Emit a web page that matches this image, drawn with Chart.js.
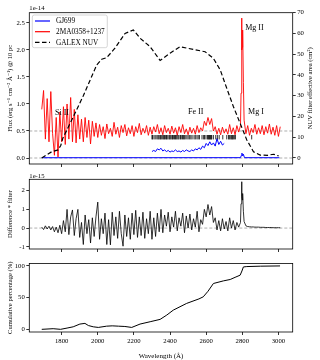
<!DOCTYPE html>
<html>
<head>
<meta charset="utf-8">
<script src="https://cdn.jsdelivr.net/npm/chart.js@4"></script>
<style>
  body { margin: 0; background: #fff; }
  #wrap { position: relative; width: 320px; height: 360px; }
  #wrap canvas { position: absolute; left: 0; }
</style>
</head>
<body>
<div id="wrap">
  <canvas id="fluxChart" width="320" height="170" style="top:0px"></canvas>
  <canvas id="diffChart" width="320" height="88" style="top:170px"></canvas>
  <canvas id="cumChart" width="320" height="102" style="top:258px"></canvas>
</div>
<script>
// wavelength range shown on all three panels (Angstrom)
const X_MIN = 1621, X_MAX = 3079;
const xTicksStep = 200;

// 2MA0358+1237 flux (x 1e-14), every 10 A from 1690 A
const redStart = 1690, redStep = 10;
const redFlux = [
  0.9, 1.25, 0.35, 1.1, 0.3, 1.23, 0.45, 0.05, 0.75, 0.02,
  0.85, 0.3, 0.95, 0.25, 1.0, 0.35, 1.12, 0.3, 0.9, 0.28,
  0.8, 0.35, 0.72, 0.3, 0.75, 0.38, 0.7, 0.26, 0.68, 0.4,
  0.65, 0.38, 0.62, 0.42, 0.58, 0.36, 0.63, 0.45, 0.55, 0.4,
  0.66, 0.44, 0.57, 0.38, 0.6, 0.47, 0.62, 0.41, 0.56, 0.45,
  0.6, 0.4, 0.58, 0.47, 0.64, 0.43, 0.55, 0.46, 0.6, 0.42,
  0.57, 0.44, 0.58, 0.48, 0.62, 0.45, 0.56, 0.43, 0.6, 0.47,
  0.55, 0.44, 0.59, 0.46, 0.56, 0.42, 0.58, 0.47, 0.62, 0.45,
  0.54, 0.43, 0.57, 0.46, 0.55, 0.44, 0.6, 0.47, 0.56, 0.5,
  0.68, 0.6, 0.75, 0.62, 0.73, 0.5, 0.58, 0.44, 0.55, 0.43,
  0.57, 0.46, 0.54, 0.44, 0.62, 0.45, 0.56, 0.43, 0.6, 0.48,
  0.6, 2.05, 0.7, 0.45, 0.6, 0.42, 0.55, 0.47, 0.62, 0.44,
  0.56, 0.45, 0.6, 0.43, 0.58, 0.46, 0.63, 0.44, 0.57, 0.42,
  0.6, 0.4, 0.58
];
// extra samples across the Mg II doublet
const redMgWave = [2793, 2796, 2798, 2801, 2803, 2806];
const redMgFlux = [1.2, 2.59, 2.0, 2.1, 2.37, 1.4];

// GJ699 flux (x 1e-14)
const gjWave = [1690, 2790, 2795, 2798, 2802, 2806, 2812, 3005];
const gjFlux = [0.005, 0.006, 0.05, 0.09, 0.04, 0.07, 0.006, 0.005];
const gjSegStart = 2300;
const gjSegFlux = [
  0.12, 0.14, 0.12, 0.17, 0.15, 0.18, 0.13, 0.15, 0.12, 0.14,
  0.11, 0.13, 0.12, 0.15, 0.12, 0.13, 0.11, 0.14, 0.12, 0.15,
  0.13, 0.12, 0.15, 0.13, 0.17, 0.15, 0.19, 0.16, 0.22, 0.19,
  0.27, 0.23, 0.3, 0.24, 0.28, 0.22, 0.36, 0.25, 0.31, 0.24, 0.27
];

// GALEX NUV effective area (cm^2)
const galexWave = [1690, 1745, 1780, 1795, 1807, 1860, 1920, 1960, 1994, 2022, 2049, 2095, 2151, 2197, 2234, 2290,
  2345, 2400, 2456, 2500, 2594, 2640, 2678, 2714, 2751, 2788, 2825, 2862, 2899, 2940, 2973, 3001];
const galexArea = [0, 3.0, 3.9, 6, 9.6, 19, 30, 38, 44.8, 47.6, 48.3, 52.9, 60, 61.7, 57.7, 53.6,
  47, 50.5, 53.6, 52.8, 51.2, 48, 42.4, 33.6, 24.7, 16.7, 8.7, 3, 1.4, 1.3, 1.8, 1];

// Fe II / Mg I line positions (A)
const markWave = [2300, 2303, 2311, 2318, 2327, 2333, 2338, 2344, 2348, 2354, 2360, 2365, 2369, 2374, 2380, 2383,
  2389, 2396, 2400, 2405, 2411, 2414, 2420, 2425, 2430, 2434, 2439, 2445, 2450, 2458, 2462, 2469, 2474, 2479,
  2484, 2493, 2500, 2507, 2515, 2522, 2533, 2540, 2549, 2556, 2563, 2577, 2586, 2591, 2599, 2607, 2611, 2614,
  2618, 2621, 2625, 2628, 2631, 2640, 2653, 2662, 2672, 2692, 2714, 2724, 2728, 2733, 2739, 2743, 2747, 2750,
  2756, 2762, 2852];
const markLevel = 0.385;
const fluxRefLevels = [0, 0.5];

// difference * filter (x 1e-15), same 10 A grid
const diffVals = [
  0.05, -0.08, 0.12, -0.05, 0.1, -0.1, 0.08, -0.2, 0.05, -0.25,
  0.15, -0.3, 0.4, -0.2, 1.0, -0.35, 0.6, 0.97, -0.4, 0.5,
  1.0, -0.5, 0.3, -0.88, 0.7, -0.3, 0.45, -0.8, 0.55, -0.45,
  0.6, 1.39, -0.6, 0.5, -0.3, 0.8, -0.88, 0.45, -0.9, 0.85,
  -0.4, 0.6, -0.55, 0.9, -0.3, -0.97, 0.7, -0.45, 0.55, -0.6,
  0.8, -0.35, 0.95, -0.5, 0.6, -0.4, 0.85, -0.55, 0.5, -0.3,
  0.9, -0.6, 0.55, -0.45, 0.8, -0.2, 1.0, -0.25, 0.7, 0.1,
  0.85, -0.2, 0.6, 0.05, 0.9, -0.15, 0.55, 0.1, 0.8, -0.25,
  0.65, 0.0, 0.75, -0.1, 0.5, 0.05, 0.9, -0.2, 0.45, 0.2,
  1.0, 0.6, 1.26, 0.7, 1.15, 0.3, 0.55, -0.1, 0.4, -0.15,
  0.5, -0.05, 0.35, -0.15, 0.55, 0.0, 0.4, -0.1, 0.3, 0.05,
  0.3, 1.5, 0.35, 0.12, 0.08, 0.07, 0.06, 0.06, 0.05, 0.05,
  0.05, 0.04, 0.04, 0.04, 0.03, 0.03, 0.03, 0.03, 0.02, 0.02,
  0.02, 0.02, 0.02
];
const diffMgVals = [1.3, 2.48, 1.7, 1.6, 1.85, 0.9];

// cumulative percentage
const cumWave = [1690, 1753, 1794, 1830, 1864, 1901, 1929, 1948, 1975, 2003, 2049, 2080, 2114, 2150, 2188, 2234,
  2290, 2345, 2382, 2418, 2492, 2560, 2584, 2610, 2640, 2695, 2733, 2760, 2788, 2798, 2806, 2825, 2900, 3009];
const cumPct = [0, 1, 0, 2, 4, 8.3, 9.4, 6, 4, 3, 5, 5.5, 5, 4.5, 3, 8.3,
  12, 15.7, 22.5, 30.3, 40.9, 48, 51.3, 60, 72.3, 76.4, 78.6, 82, 85.4, 92, 98.4, 99, 99.6, 100];

Chart.defaults.font.family = "'Liberation Serif', 'DejaVu Serif', serif";
Chart.defaults.color = '#000';
Chart.defaults.animation = false;
Chart.defaults.responsive = false;
Chart.defaults.plugins.legend.display = false;
Chart.defaults.plugins.tooltip.enabled = false;

function gridPoints(start, step, vals, extraW, extraV) {
  const pts = vals.map((v, i) => ({ x: start + i * step, y: v }));
  (extraW || []).forEach((w, i) => pts.push({ x: w, y: extraV[i] }));
  return pts.sort((a, b) => a.x - b.x);
}
function pairs(ws, vs) { return ws.map((w, i) => ({ x: w, y: vs[i] })); }
function hline(v) { return [{ x: X_MIN, y: v }, { x: X_MAX, y: v }]; }

const tickGrid = { drawOnChartArea: false, drawTicks: true, tickLength: 3, color: '#000', lineWidth: 0.8 };

function xAxis(h, labels) {
  return {
    type: 'linear', position: 'bottom', min: X_MIN, max: X_MAX,
    afterFit: s => { s.height = h; },
    border: { display: false },
    grid: tickGrid,
    ticks: { stepSize: xTicksStep, includeBounds: false, display: labels, padding: 2, maxRotation: 0, autoSkip: false,
      font: { size: 6.7 }, callback: v => String(v) },
    title: { display: labels, text: 'Wavelength (Å)', font: { size: 7 }, padding: { top: 6.3, bottom: 0 } }
  };
}
function yAxis(min, max, step, title, fmt) {
  return {
    type: 'linear', position: 'left', min: min, max: max,
    afterFit: s => { s.width = 29.3; },
    border: { display: false },
    grid: tickGrid,
    ticks: { stepSize: step, includeBounds: false, padding: 1.5, font: { size: 6.7 }, callback: fmt || (v => String(v)) },
    title: { display: true, text: title, font: { size: 6.6 }, padding: { top: 6, bottom: 0 } }
  };
}
function line(data, color, width, extra) {
  return Object.assign({ data: data, borderColor: color, borderWidth: width, showLine: true, pointRadius: 0, tension: 0 }, extra || {});
}

// frame, offset text ("1e-14") and other drawn extras
const framePlugin = {
  id: 'frame',
  afterDatasetsDraw(chart, args, opts) {
    const ctx = chart.ctx, a = chart.chartArea;
    ctx.save();
    ctx.strokeStyle = '#000';
    ctx.lineWidth = 0.8;
    ctx.strokeRect(a.left, a.top, a.right - a.left, a.bottom - a.top);
    if (opts.offsetText) {
      ctx.fillStyle = '#000';
      ctx.font = "6.7px 'Liberation Serif'";
      ctx.textBaseline = 'middle';
      ctx.fillText(opts.offsetText, a.left, a.top - opts.offsetGap);
    }
    ctx.restore();
  }
};

const lineLabels = [
  { text: 'Si II', x: 1763, y: 0.83 },
  { text: 'Fe II', x: 2500, y: 0.85 },
  { text: 'Mg II', x: 2816, y: 2.41 },
  { text: 'Mg I', x: 2832, y: 0.85 }
];

const fluxExtras = {
  id: 'fluxExtras',
  afterDatasetsDraw(chart) {
    const ctx = chart.ctx, a = chart.chartArea;
    const xs = chart.scales.x, ys = chart.scales.y;
    ctx.save();
    // line labels
    ctx.fillStyle = '#000';
    ctx.font = "8px 'Liberation Serif'";
    ctx.textBaseline = 'middle';
    lineLabels.forEach(l => ctx.fillText(l.text, xs.getPixelForValue(l.x), ys.getPixelForValue(l.y)));
    // legend
    const items = chart.data.datasets.filter(d => d.label);
    const x0 = a.left + 3, y0 = a.top + 2.3, rowH = 10.7;
    ctx.fillStyle = 'rgba(255,255,255,0.8)';
    ctx.strokeStyle = '#ccc';
    ctx.lineWidth = 0.8;
    ctx.beginPath();
    ctx.roundRect(x0, y0, 75, items.length * rowH + 0.6, 2);
    ctx.fill();
    ctx.stroke();
    ctx.font = "7.3px 'Liberation Serif'";
    items.forEach((d, i) => {
      const yy = y0 + 6 + i * rowH;
      ctx.strokeStyle = d.borderColor;
      ctx.lineWidth = d.legendWidth || d.borderWidth;
      ctx.setLineDash(d.borderDash || []);
      ctx.beginPath();
      ctx.moveTo(x0 + 2.7, yy);
      ctx.lineTo(x0 + 17.7, yy);
      ctx.stroke();
      ctx.setLineDash([]);
      ctx.fillStyle = '#000';
      ctx.fillText(d.label, x0 + 23.7, yy + 0.5);
    });
    // right axis title, reading bottom to top
    ctx.translate(chart.width - 10, (a.top + a.bottom) / 2);
    ctx.rotate(-Math.PI / 2);
    ctx.textAlign = 'center';
    ctx.font = "6.6px 'Liberation Serif'";
    ctx.fillText('NUV filter effective area (cm²)', 0, 0);
    ctx.restore();
  }
};

const grayDash = { borderDash: [3, 2], order: 5 };

new Chart(document.getElementById('fluxChart'), {
  type: 'scatter',
  data: {
    datasets: [
      line(pairs(gjWave, gjFlux), 'blue', 1, { label: 'GJ699', order: 3, legendWidth: 1.2 }),
      line(gridPoints(redStart, redStep, redFlux, redMgWave, redMgFlux), 'red', 0.9, { label: '2MA0358+1237', order: 2, legendWidth: 1.2 }),
      line(pairs(galexWave, galexArea), '#000', 1.2, { label: 'GALEX NUV', yAxisID: 'y2', borderDash: [4.5, 2.5], order: 0 }),
      line(gridPoints(gjSegStart, 10, gjSegFlux), 'blue', 1, { order: 3 }),
      { data: markWave.map(w => ({ x: w, y: markLevel })), showLine: false, pointStyle: 'line', pointRotation: 90,
        pointRadius: 2.2, pointBorderColor: '#000', pointBorderWidth: 0.8, order: 1 },
      ...fluxRefLevels.map(v => line(hline(v), '#999', 0.8, grayDash))
    ]
  },
  options: {
    layout: { padding: { top: 12.7, right: 0, bottom: 0, left: 0 } },
    scales: {
      x: xAxis(6, false),
      y: yAxis(-0.111, 2.69, 0.5, 'Flux (erg s⁻¹ cm⁻² Å⁻¹) @ 10 pc', v => v.toFixed(1)),
      y2: {
        type: 'linear', position: 'right', min: -2.9, max: 70,
        afterFit: s => { s.width = 27.3; },
        border: { display: false },
        grid: tickGrid,
        ticks: { stepSize: 10, includeBounds: false, padding: 1.5, font: { size: 6.7 } }
      }
    },
    plugins: { frame: { offsetText: '1e-14', offsetGap: 4.7 } }
  },
  plugins: [framePlugin, fluxExtras]
});

new Chart(document.getElementById('diffChart'), {
  type: 'scatter',
  data: {
    datasets: [
      line(gridPoints(redStart, redStep, diffVals, redMgWave, diffMgVals), '#000', 0.8, { order: 1 }),
      line(hline(0), '#999', 0.8, grayDash)
    ]
  },
  options: {
    layout: { padding: { top: 9.3, right: 27.3, bottom: 0, left: 0 } },
    scales: {
      x: xAxis(9, false),
      y: yAxis(-1.12, 2.61, 1, 'Difference * filter')
    },
    plugins: { frame: { offsetText: '1e-15', offsetGap: 2.8 } }
  },
  plugins: [framePlugin]
});

new Chart(document.getElementById('cumChart'), {
  type: 'scatter',
  data: {
    datasets: [
      line(pairs(cumWave, cumPct), '#000', 1)
    ]
  },
  options: {
    layout: { padding: { top: 5.3, right: 27.3, bottom: 0, left: 0 } },
    scales: {
      x: xAxis(28, true),
      y: yAxis(-4.2, 103.8, 50, 'Cumulative percentage (%)')
    },
    plugins: { frame: {} }
  },
  plugins: [framePlugin]
});
</script>
</body>
</html>
